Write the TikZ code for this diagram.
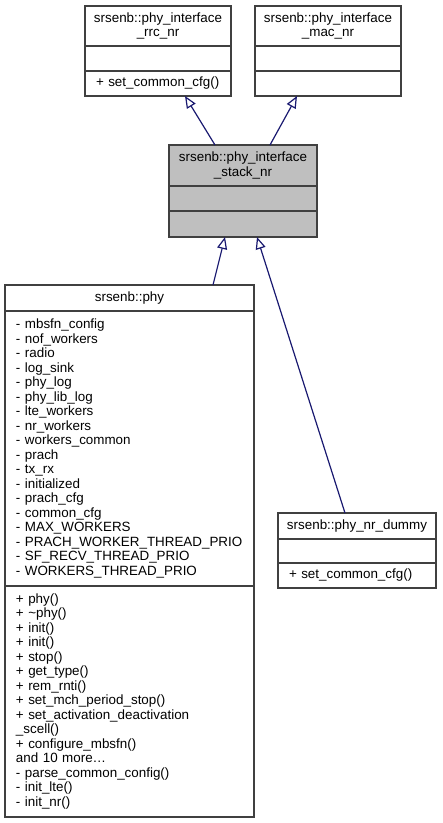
\documentclass[tikz,border=0pt]{standalone}
\usepackage{fontspec}
\setmainfont{Liberation Sans}
\usetikzlibrary{arrows.meta, positioning}
\definecolor{boxline}{RGB}{64, 64, 64}
\definecolor{basefill}{RGB}{191, 191, 191}
\definecolor{edgeblue}{RGB}{25, 25, 112}
\newcommand{\umlfont}{\fontsize{13.4pt}{14.5pt}\selectfont}

\begin{document}
\begin{tikzpicture}[x=1pt, y=1pt,
  part/.style={draw=boxline, line width=1.2pt, inner sep=0pt, outer sep=0pt,
    font=\umlfont, anchor=north west},
  titlepart/.style={part, align=center, minimum width=#1},
  listpart/.style={part, align=left, inner xsep=11pt, text width=#1},
  isa/.style={draw=edgeblue, line width=1.2pt,
    -{Triangle[open, length=12pt, width=10pt]}}]
  \useasboundingbox (0,0) rectangle (443,-823);

  % base interfaces
  \node[titlepart=146pt, minimum height=40pt] (rrc-t) at (85,-6)
    {srsenb::phy\_interface\\\_rrc\_nr};
  \node[listpart=124pt, minimum height=25pt, below=0pt of rrc-t] (rrc-a) {};
  \node[listpart=124pt, minimum height=25pt, below=0pt of rrc-a] (rrc-m)
    {+ set\_common\_cfg()};

  \node[titlepart=146pt, minimum height=40pt] (mac-t) at (255,-6)
    {srsenb::phy\_interface\\\_mac\_nr};
  \node[listpart=124pt, minimum height=25pt, below=0pt of mac-t] (mac-a) {};
  \node[listpart=124pt, minimum height=25pt, below=0pt of mac-a] (mac-m) {};

  % stack interface
  \node[titlepart=148pt, minimum height=41pt, fill=basefill] (stack-t) at (169,-145)
    {srsenb::phy\_interface\\\_stack\_nr};
  \node[listpart=126pt, minimum height=25pt, fill=basefill, below=0pt of stack-t] (stack-a) {};
  \node[listpart=126pt, minimum height=26pt, fill=basefill, below=0pt of stack-a] (stack-m) {};

  % phy
  \node[titlepart=249pt, minimum height=26pt] (phy-t) at (5,-285) {srsenb::phy};
  \node[listpart=227pt, minimum height=275pt, below=0pt of phy-t] (phy-a)
    {- mbsfn\_config\\- nof\_workers\\- radio\\- log\_sink\\- phy\_log\\
     - phy\_lib\_log\\- lte\_workers\\- nr\_workers\\- workers\_common\\
     - prach\\- tx\_rx\\- initialized\\- prach\_cfg\\- common\_cfg\\
     - MAX\_WORKERS\\- PRACH\_WORKER\_THREAD\_PRIO\\- SF\_RECV\_THREAD\_PRIO\\
     - WORKERS\_THREAD\_PRIO};
  \node[listpart=227pt, minimum height=231pt, below=0pt of phy-a] (phy-m)
    {+ phy()\\+ \textasciitilde phy()\\+ init()\\+ init()\\+ stop()\\
     + get\_type()\\+ rem\_rnti()\\+ set\_mch\_period\_stop()\\
     + set\_activation\_deactivation\\\_scell()\\+ configure\_mbsfn()\\
     and 10 more\dots\\- parse\_common\_config()\\- init\_lte()\\- init\_nr()};

  % dummy
  \node[titlepart=158pt, minimum height=26pt] (dummy-t) at (278,-513)
    {srsenb::phy\_nr\_dummy};
  \node[listpart=136pt, minimum height=24pt, below=0pt of dummy-t] (dummy-a) {};
  \node[listpart=136pt, minimum height=25pt, below=0pt of dummy-a] (dummy-m)
    {+ set\_common\_cfg()};

  \draw[isa] ([xshift=46pt]stack-t.north west) -- ([xshift=100pt]rrc-m.south west);
  \draw[isa] ([xshift=101pt]stack-t.north west) -- ([xshift=42pt]mac-m.south west);
  \draw[isa] ([xshift=208pt]phy-t.north west) -- ([xshift=56pt]stack-m.south west);
  \draw[isa] ([xshift=67pt]dummy-t.north west) -- ([xshift=88pt]stack-m.south west);
\end{tikzpicture}
\end{document}
